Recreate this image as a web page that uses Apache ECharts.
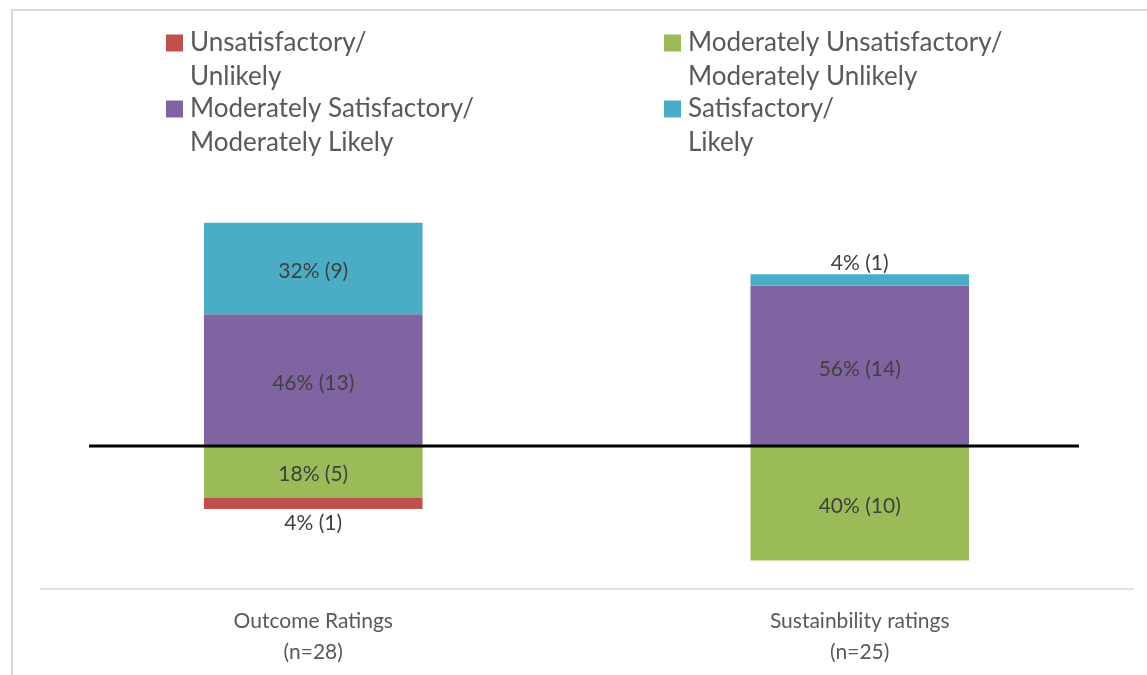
<!DOCTYPE html>
<html>
<head>
<meta charset="utf-8">
<script src="https://cdn.jsdelivr.net/npm/echarts@6/dist/echarts.min.js"></script>
<style>
  html, body { margin: 0; padding: 0; background: #fff; }
  #frame { position: absolute; left: 11px; top: 9px; width: 1200px; height: 700px; border: 2px solid #d9d9d9; box-sizing: border-box; }
  #chart { position: absolute; left: 0; top: 0; width: 1147px; height: 675px; }
</style>
</head>
<body>
<div id="frame"></div>
<div id="chart"></div>
<script>
// ---- data ----
const categories = ['Outcome Ratings\n(n=28)', 'Sustainbility ratings\n(n=25)'];
const seriesNames = {
  unsat: 'Unsatisfactory/\nUnlikely',
  modUnsat: 'Moderately Unsatisfactory/\nModerately Unlikely',
  modSat: 'Moderately Satisfactory/\nModerately Likely',
  sat: 'Satisfactory/\nLikely'
};
// percentages (negative = below the line)
const unsatPct = [-4, null];
const modUnsatPct = [-18, -40];
const modSatPct = [46, 56];
const satPct = [32, 4];
// counts
const unsatN = [1, null];
const modUnsatN = [5, 10];
const modSatN = [13, 14];
const satN = [9, 1];
// zero reference line
const zeroLineX = [0, 1];
const zeroLineY = [0, 0];

const colors = { unsat: '#C0504D', modUnsat: '#9BBB59', modSat: '#8064A2', sat: '#4BACC6' };
const FONT = 'Lato';

function buildData(pcts, counts) {
  return pcts.map((v, i) => {
    if (v === null) return null;
    const small = Math.abs(v) < 8;
    let label;
    if (!small) label = { position: 'inside', offset: [0, 3] };
    else if (v > 0) label = { position: 'top', distance: 0 };
    else label = { position: 'bottom', distance: 4 };
    return { value: v, n: counts[i], label: label };
  });
}

function barSeries(key, pcts, counts) {
  return {
    name: seriesNames[key],
    type: 'bar',
    stack: 'total',
    barWidth: '40%',
    xAxisIndex: 0, yAxisIndex: 0,
    itemStyle: { color: colors[key] },
    label: {
      show: true,
      color: '#404040',
      fontFamily: FONT,
      fontSize: 21,
      formatter: p => Math.abs(p.value) + '% (' + p.data.n + ')'
    },
    data: buildData(pcts, counts)
  };
}

function legendFor(key, left, top) {
  return {
    show: true,
    left: left, top: top,
    padding: 0,
    itemWidth: 17, itemHeight: 17,
    itemGap: 0,
    icon: 'rect',
    selectedMode: false,
    data: [seriesNames[key]],
    formatter: name => '\n' + name,
    textStyle: {
      color: '#595959', fontFamily: FONT, fontSize: 26, lineHeight: 34,
      padding: [0, 0, 0, 2]
    }
  };
}

const chart = echarts.init(document.getElementById('chart'));
chart.setOption({
  animation: false,
  backgroundColor: 'transparent',
  legend: [
    legendFor('unsat', 166, -8),
    legendFor('modUnsat', 664, -8),
    legendFor('modSat', 166, 58),
    legendFor('sat', 664, 58)
  ],
  grid: [
    { left: 40, right: 14, top: 217, bottom: 86 },
    { left: 89, right: 68, top: 217, bottom: 86 }
  ],
  xAxis: [
    {
      type: 'category', gridIndex: 0, data: categories,
      axisLine: { show: true, onZero: false, lineStyle: { color: '#d9d9d9', width: 1.5 } },
      axisTick: { show: false },
      axisLabel: { color: '#595959', fontFamily: FONT, fontSize: 21, lineHeight: 31, margin: 17 }
    },
    { type: 'value', gridIndex: 1, min: 0, max: 1, show: false }
  ],
  yAxis: [
    { type: 'value', gridIndex: 0, min: -50, max: 80, show: false, splitLine: { show: false } },
    { type: 'value', gridIndex: 1, min: -50, max: 80, show: false, splitLine: { show: false } }
  ],
  series: [
    barSeries('modUnsat', modUnsatPct, modUnsatN),
    barSeries('unsat', unsatPct, unsatN),
    barSeries('modSat', modSatPct, modSatN),
    barSeries('sat', satPct, satN),
    {
      type: 'line', xAxisIndex: 1, yAxisIndex: 1, silent: true,
      symbol: 'none', lineStyle: { color: '#000', width: 3 },
      data: zeroLineX.map((x, i) => [x, zeroLineY[i]]),
      z: 5
    }
  ]
});
</script>
</body>
</html>
